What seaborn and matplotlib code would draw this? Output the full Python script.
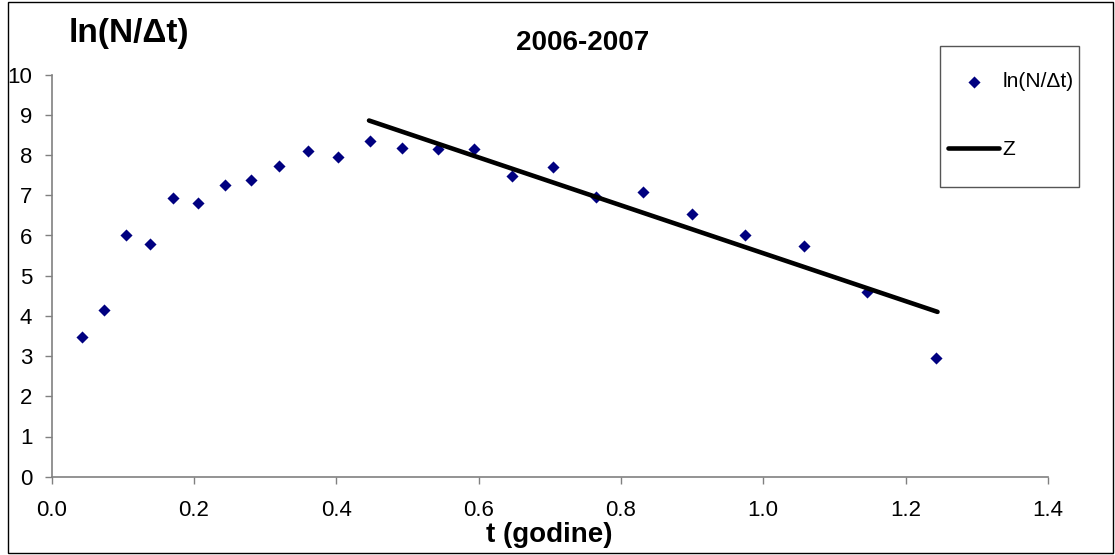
import matplotlib
matplotlib.use("Agg")
import matplotlib.pyplot as plt
import seaborn as sns
import pandas as pd
from matplotlib.patches import Rectangle
from matplotlib.ticker import FormatStrFormatter

# ---- data ----
t_years = [0.042, 0.073, 0.104, 0.138, 0.170, 0.205, 0.243, 0.280, 0.320, 0.360,
           0.402, 0.447, 0.492, 0.543, 0.593, 0.647, 0.705, 0.765, 0.831, 0.900,
           0.975, 1.058, 1.146, 1.243]
ln_n_dt = [3.48, 4.15, 6.01, 5.79, 6.94, 6.81, 7.25, 7.38, 7.73, 8.10,
           7.95, 8.36, 8.18, 8.14, 8.14, 7.48, 7.70, 6.95, 7.07, 6.54,
           6.01, 5.75, 4.60, 2.96]
z_t = [0.446, 1.245]
z_val = [8.86, 4.10]

title = "2006-2007"
x_label = "t (godine)"
y_label = "ln(N/\u0394t)"
series_label = "ln(N/\u0394t)"
line_label = "Z"
x_ticks = [0.0, 0.2, 0.4, 0.6, 0.8, 1.0, 1.2, 1.4]
y_ticks = list(range(0, 11))

pts = pd.DataFrame({"t": t_years, "v": ln_n_dt})
zl = pd.DataFrame({"t": z_t, "v": z_val})

sns.set_theme(style="white")
plt.rcParams["font.family"] = ["Liberation Sans", "DejaVu Sans"]
plt.rcParams["text.color"] = "black"
plt.rcParams["axes.labelcolor"] = "black"
plt.rcParams["xtick.color"] = "black"
plt.rcParams["ytick.color"] = "black"

W, H = 1115, 555
fig = plt.figure(figsize=(W / 100, H / 100), dpi=100)
fig.patch.set_facecolor("white")
x0, x1, y0, y1 = 51.7, 1047.8, 74.7, 476.7
ax = fig.add_axes([x0 / W, 1 - y1 / H, (x1 - x0) / W, (y1 - y0) / H])
ax.set_facecolor("white")

sns.scatterplot(data=pts, x="t", y="v", ax=ax, marker="D", s=38,
                color="#000080", linewidth=0, label=series_label, legend=False)
sns.lineplot(data=zl, x="t", y="v", ax=ax, color="black", linewidth=3.3,
             label=line_label, legend=False, solid_capstyle="round", sort=False)

ax.set_xlim(0, 1.4)
ax.set_ylim(0, 10)
ax.set_xticks(x_ticks)
ax.set_yticks(y_ticks)
ax.xaxis.set_major_formatter(FormatStrFormatter("%.1f"))

for side in ["top", "right"]:
    ax.spines[side].set_visible(False)
for side in ["left", "bottom"]:
    ax.spines[side].set_color("#808080")
    ax.spines[side].set_linewidth(1.2)

ax.tick_params(axis="both", which="major", direction="out", length=5, width=1,
               color="#808080", labelsize=16, labelcolor="black",
               bottom=True, left=True)
ax.tick_params(axis="y", pad=9)
ax.tick_params(axis="x", pad=12)

ax.set_xlabel(x_label, fontsize=20, fontweight="bold", va="center")
ax.xaxis.set_label_coords(0.499, -0.145)
ax.set_ylabel(y_label, fontsize=24, fontweight="bold", rotation=0,
              ha="center", va="center")
ax.yaxis.set_label_coords(0.0776, 1.102)
ax.set_title(title, fontsize=20, fontweight="bold", x=0.533, y=1.08,
             va="center", pad=0)

# legend (entries) and its frame
handles, labels = ax.get_legend_handles_labels()
leg = ax.legend(handles, labels, loc="upper left",
                bbox_to_anchor=(940 / W, 1 - 64 / H), bbox_transform=fig.transFigure,
                fontsize=15, frameon=False, borderpad=0.4, borderaxespad=0,
                handlelength=2.45, handletextpad=0.15, labelspacing=2.35)
fig.patches.append(Rectangle((940 / W, 1 - 187 / H), (1079 - 940) / W, (187 - 46) / H,
                             transform=fig.transFigure, fill=False,
                             edgecolor="#555555", linewidth=1.0))

fig.patches.append(Rectangle((8 / W, 2 / H), (1113 - 8) / W, (553 - 2) / H,
                             transform=fig.transFigure, fill=False,
                             edgecolor="black", linewidth=1.0))

fig.savefig("out.png", dpi=100, facecolor="white")
